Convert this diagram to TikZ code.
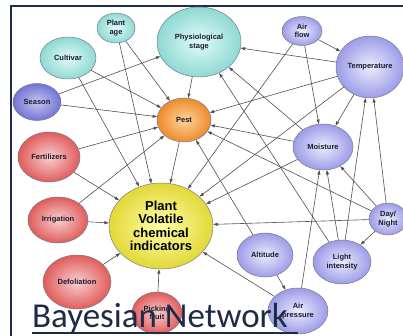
\documentclass[tikz,border=0pt]{standalone}
\usepackage{fontspec}
\setmainfont{Liberation Sans}
\newfontfamily\titlefont{Carlito}
\usetikzlibrary{shapes.geometric,arrows.meta}

\definecolor{framenavy}{HTML}{1F2D4A}
\definecolor{titleink}{HTML}{1E2B45}
\definecolor{labelink}{HTML}{1A1A30}
\definecolor{nodeedge}{HTML}{7A7A8A}
\definecolor{linkgray}{HTML}{505050}
\definecolor{cyanin}{HTML}{E2FBF8}
\definecolor{cyanout}{HTML}{8ED9D2}
\definecolor{lavin}{HTML}{ECECFD}
\definecolor{lavout}{HTML}{9C9CE8}
\definecolor{seasonin}{HTML}{C4C4F2}
\definecolor{seasonout}{HTML}{7474D2}
\definecolor{redin}{HTML}{F9CFCF}
\definecolor{redout}{HTML}{E05C5C}
\definecolor{orangein}{HTML}{FFD59A}
\definecolor{orangeout}{HTML}{EE8A2C}
\definecolor{yellowin}{HTML}{FFFFA8}
\definecolor{yellowout}{HTML}{E2D838}

\begin{document}
\begin{tikzpicture}[x=1pt,y=-1pt,
  bnode/.style={ellipse, draw=nodeedge, line width=0.5pt, inner sep=0pt,
    align=center, text=labelink,
    font=\fontsize{7.5}{8.5}\selectfont\bfseries},
  sz/.style 2 args={minimum width=#1, minimum height=#2},
  cyanball/.style={bnode, inner color=cyanin, outer color=cyanout},
  lavball/.style={bnode, inner color=lavin, outer color=lavout},
  seasonball/.style={bnode, inner color=seasonin, outer color=seasonout},
  redball/.style={bnode, inner color=redin, outer color=redout},
  orangeball/.style={bnode, inner color=orangein, outer color=orangeout},
  yellowball/.style={bnode, inner color=yellowin, outer color=yellowout,
    text=black, font=\fontsize{13}{13.3}\selectfont\bfseries},
  link/.style={draw=linkgray, line width=0.6pt,
    -{Triangle[length=4.5pt,width=3pt]}},
]
\useasboundingbox (0,0) rectangle (403,336);
\fill[white] (0,0) rectangle (403,336);

% frame
\draw[framenavy, line width=1.8pt] (403,6) -- (11,6) -- (11,336);

% nodes
\node[cyanball, sz={38pt}{30pt}] (plantage) at (116,28) {Plant\\age};
\node[cyanball, sz={56pt}{42pt}] (cultivar) at (68,58) {Cultivar};
\node[cyanball, sz={84pt}{70pt}] (physio) at (199,42) {Physiological\\stage};
\node[lavball, sz={40pt}{29pt}] (airflow) at (302,31) {Air\\flow};
\node[lavball, sz={68pt}{62pt}] (temperature) at (370,67) {Temperature};
\node[seasonball, sz={48pt}{37pt}] (season) at (37,102) {Season};
\node[orangeball, sz={54pt}{44pt}] (pest) at (184,120) {Pest};
\node[lavball, sz={60pt}{46pt}] (moisture) at (323,147) {Moisture};
\node[redball, sz={62pt}{50pt}] (fertilizers) at (49,157) {Fertilizers};
\node[redball, sz={60pt}{46pt}] (irrigation) at (58,220) {Irrigation};
\node[yellowball, sz={104pt}{86pt}] (pvci) at (161,226) {Plant\\Volatile\\chemical\\indicators};
\node[redball, sz={68pt}{54pt}] (defoliation) at (77,282) {Defoliation};
\node[redball, sz={50pt}{42pt}] (picking) at (157,313) {Picking\\fruit};
\node[lavball, sz={38pt}{32pt}] (daynight) at (388,219) {Day/\\Night};
\node[lavball, sz={56pt}{44pt}] (altitude) at (265,255) {Altitude};
\node[lavball, sz={58pt}{44pt}] (light) at (342,262) {Light\\intensity};
\node[lavball, sz={60pt}{46pt}] (airpressure) at (298,311) {Air\\pressure};

% dependencies
\foreach \s/\t in {
  plantage/pest, plantage/pvci,
  cultivar/pest, cultivar/pvci,
  season/physio, season/pest,
  fertilizers/pest, fertilizers/pvci,
  irrigation/pest, irrigation/pvci,
  defoliation/pvci, picking/pvci,
  physio/pest, pest/pvci,
  airflow/temperature, airflow/moisture, airflow/pvci,
  temperature/physio, temperature/pest, temperature/pvci, temperature/moisture,
  moisture/physio, moisture/pest, moisture/pvci,
  light/physio, light/moisture, light/temperature,
  daynight/pest, daynight/pvci, daynight/temperature, daynight/moisture, daynight/light,
  altitude/pest, altitude/airpressure,
  airpressure/pvci, airpressure/moisture}
  \draw[link] (\s) -- (\t);

% title
\node[anchor=base west, inner sep=0pt, text=titleink,
      font=\titlefont\fontsize{35}{40}\selectfont] (title) at (32,327) {Bayesian Network};
\draw[titleink, line width=2pt] (32,333) -- (298,333);
\end{tikzpicture}
\end{document}
